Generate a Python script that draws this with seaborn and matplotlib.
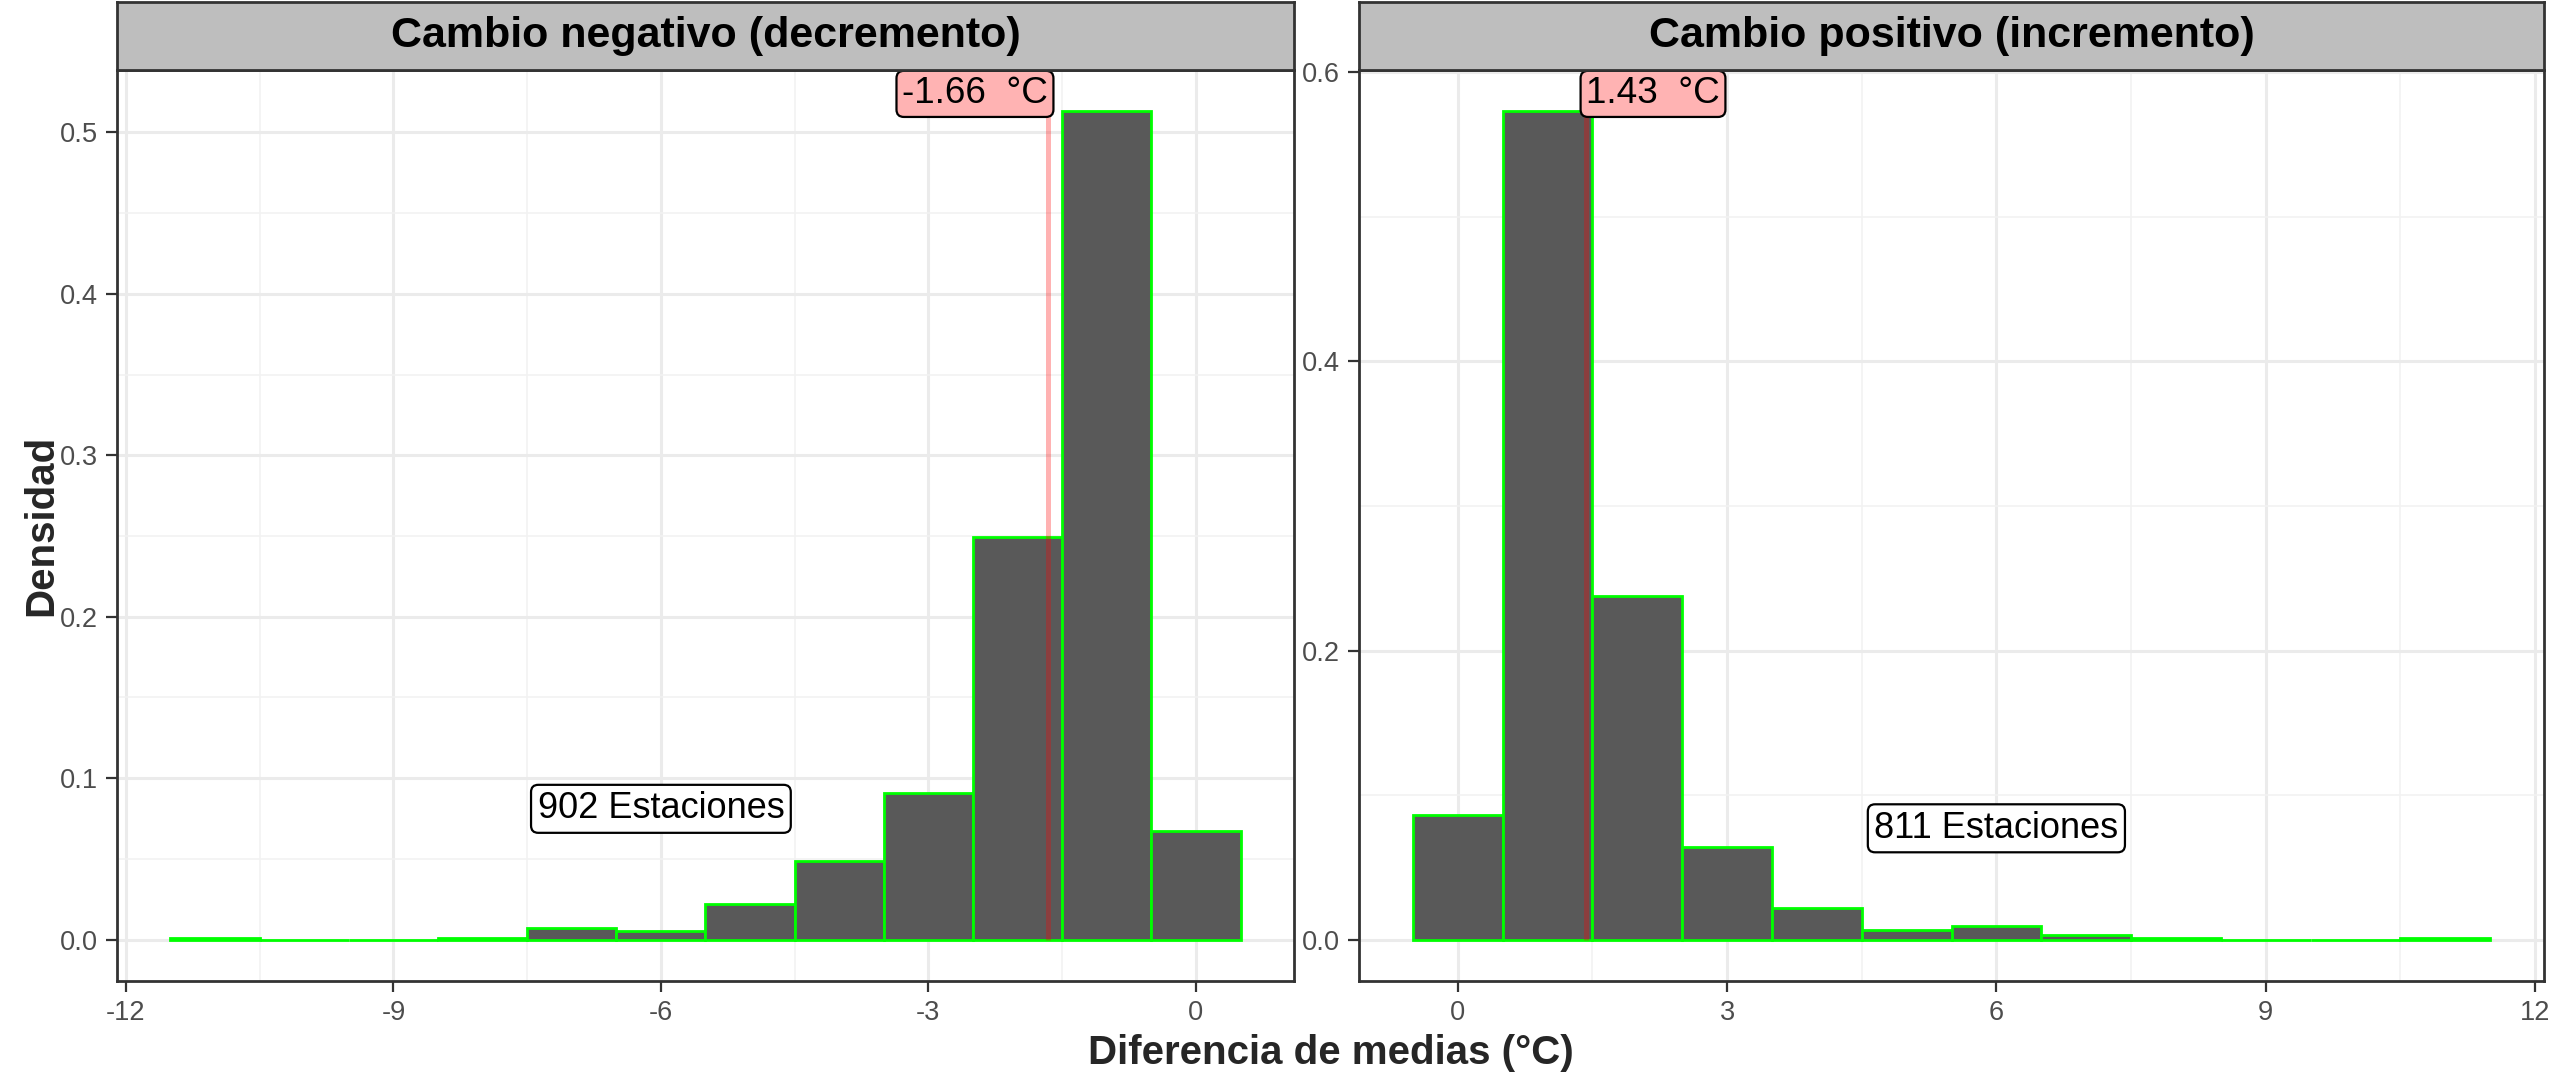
import numpy as np
import pandas as pd
import matplotlib
matplotlib.use("Agg")
import matplotlib.pyplot as plt
import seaborn as sns
from matplotlib.ticker import MultipleLocator

# ---- data ----
neg_centers = [-11, -10, -9, -8, -7, -6, -5, -4, -3, -2, -1, 0]
neg_density = [0.0011, 0.0, 0.0, 0.0011, 0.0072, 0.0052, 0.0220, 0.0485, 0.0907, 0.2494, 0.5130, 0.0670]
pos_centers = [0, 1, 2, 3, 4, 5, 6, 7, 8, 9, 10, 11]
pos_density = [0.0860, 0.5730, 0.2380, 0.0643, 0.0220, 0.0066, 0.0093, 0.0035, 0.0012, 0.0, 0.0, 0.0012]
neg_mean = -1.66
pos_mean = 1.43
neg_n = 902
pos_n = 811
strip_titles = ["Cambio negativo (decremento)", "Cambio positivo (incremento)"]
neg_xticks = [-12, -9, -6, -3, 0]
pos_xticks = [0, 3, 6, 9, 12]
neg_yticks = [0.0, 0.1, 0.2, 0.3, 0.4, 0.5]
pos_yticks = [0.0, 0.2, 0.4, 0.6]
station_label_pos = {"neg": (-6.0, 0.081), "pos": (6.0, 0.077)}

sns.set_theme(style="white")
plt.rcParams["font.family"] = ["Liberation Sans", "DejaVu Sans"]

DPI = 200
W, H = 2552, 1076
fig = plt.figure(figsize=(W / DPI, H / DPI), dpi=DPI)

ax_specs = [
    (117 / W, 1294 / W),
    (1359 / W, 2544 / W),
]
bottom = 1 - 981 / H
top = 1 - 70 / H
strip_top = 1 - 2 / H

panels = [
    dict(c=neg_centers, d=neg_density, mean=neg_mean, n=neg_n, xt=neg_xticks, yt=neg_yticks,
         key="neg", ha="right"),
    dict(c=pos_centers, d=pos_density, mean=pos_mean, n=pos_n, xt=pos_xticks, yt=pos_yticks,
         key="pos", ha="left"),
]

for i, (p, (l, r)) in enumerate(zip(panels, ax_specs)):
    ax = fig.add_axes([l, bottom, r - l, top - bottom])
    edges = [float(e) for e in np.arange(min(p["c"]) - 0.5, max(p["c"]) + 1.0, 1.0)]
    df = pd.DataFrame({"x": p["c"], "w": p["d"]})
    sns.histplot(data=df, x="x", weights="w", bins=edges, ax=ax, color="#595959",
                 edgecolor="#00FF00", linewidth=1.0, alpha=1.0, zorder=2)
    lo, hi = edges[0], edges[-1]
    pad = (hi - lo) * 0.05
    ax.set_xlim(lo - pad, hi + pad)
    ymax = max(p["d"])
    ax.set_ylim(-ymax * 0.05, ymax * 1.05)
    ax.set_xticks(p["xt"])
    ax.set_yticks(p["yt"])
    ax.set_xticklabels([f"{t:g}" for t in p["xt"]])
    ax.set_yticklabels([f"{t:.1f}" for t in p["yt"]])
    ax.xaxis.set_minor_locator(MultipleLocator(1.5))
    ax.yaxis.set_minor_locator(MultipleLocator((p["yt"][1] - p["yt"][0]) / 2))
    ax.grid(True, which="major", color="#EBEBEB", linewidth=1.1, zorder=0)
    ax.grid(True, which="minor", color="#F2F2F2", linewidth=0.6, zorder=0)
    ax.set_axisbelow(True)
    ax.set_xlabel("")
    ax.set_ylabel("")
    for s in ax.spines.values():
        s.set_color("#333333")
        s.set_linewidth(1.0)
    ax.tick_params(axis="both", which="major", length=4, width=0.8, color="#333333",
                   labelsize=9.8, labelcolor="#4D4D4D", bottom=True, left=True, pad=3)
    ax.tick_params(axis="both", which="minor", length=0)

    ax.vlines(p["mean"], 0, ymax, color="red", alpha=0.3, linewidth=1.8, zorder=3)
    ax.text(p["mean"], ymax, f"{p['mean']:.2f}  °C", ha=p["ha"], va="bottom",
            fontsize=13.3, color="black", zorder=5,
            bbox=dict(boxstyle="round,pad=0.15,rounding_size=0.2", facecolor="#FFB3B3",
                      edgecolor="black", linewidth=0.8))
    sx, sy = station_label_pos[p["key"]]
    ax.text(sx, sy, f"{p['n']} Estaciones", ha="center", va="center", fontsize=13,
            color="black", zorder=5,
            bbox=dict(boxstyle="round,pad=0.18,rounding_size=0.2", facecolor="white",
                      edgecolor="black", linewidth=0.8))

    sax = fig.add_axes([l, top, r - l, strip_top - top])
    sax.set_facecolor("#BEBEBE")
    sax.set_xticks([])
    sax.set_yticks([])
    for s in sax.spines.values():
        s.set_color("#333333")
        s.set_linewidth(1.0)
    sax.text(0.5, 0.5, strip_titles[i], ha="center", va="center", fontsize=15.5,
             fontweight="bold", color="black", transform=sax.transAxes)

fig.text(41 / W, (bottom + top) / 2, "Densidad", rotation=90, ha="center", va="center",
         fontsize=14.5, fontweight="bold")
fig.text(0.5215, 1 - 1053 / H, "Diferencia de medias (°C)", ha="center", va="center",
         fontsize=14.5, fontweight="bold")

fig.savefig("out.png", dpi=DPI)
